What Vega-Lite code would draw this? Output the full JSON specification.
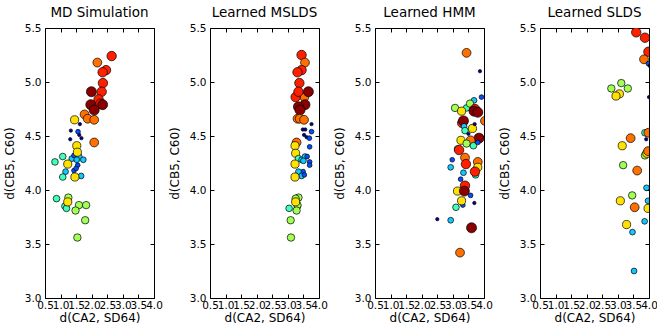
{
  "$schema": "https://vega.github.io/schema/vega-lite/v6.json",
  "padding": {"left": 2, "top": 5, "right": 5, "bottom": 2},
  "bounds": "flush",
  "spacing": 56,
  "config": {
    "view": {"stroke": "black", "strokeWidth": 1},
    "font": "DejaVu Sans",
    "title": {"font": "DejaVu Sans", "fontSize": 13.5, "fontWeight": "normal", "offset": 4, "color": "black"},
    "axis": {
      "domain": false, "grid": false, "tickSize": -4, "tickColor": "black",
      "labelColor": "black", "labelFont": "DejaVu Sans", "labelFontSize": 10.5,
      "titleFont": "DejaVu Sans", "titleFontSize": 12, "titleFontWeight": "normal", "titleColor": "black",
      "labelOverlap": false, "labelFlush": false, "labelBound": false
    }
  },
  "datasets": {
    "pts": [
      {"p":"MD Simulation","x":2.64,"y":5.24,"s":8},{"p":"MD Simulation","x":2.18,"y":5.18,"s":7},{"p":"MD Simulation","x":2.46,"y":5.11,"s":8},{"p":"MD Simulation","x":2.35,"y":5.09,"s":8},{"p":"MD Simulation","x":2.36,"y":4.99,"s":8},{"p":"MD Simulation","x":2.32,"y":4.91,"s":8},{"p":"MD Simulation","x":1.99,"y":4.91,"s":9},{"p":"MD Simulation","x":2.22,"y":4.84,"s":8},{"p":"MD Simulation","x":2.28,"y":4.80,"s":8},{"p":"MD Simulation","x":2.35,"y":4.79,"s":9},{"p":"MD Simulation","x":1.97,"y":4.79,"s":9},{"p":"MD Simulation","x":2.08,"y":4.74,"s":9},{"p":"MD Simulation","x":1.77,"y":4.70,"s":7},{"p":"MD Simulation","x":1.87,"y":4.66,"s":7},{"p":"MD Simulation","x":2.08,"y":4.65,"s":7},{"p":"MD Simulation","x":1.45,"y":4.65,"s":6},{"p":"MD Simulation","x":2.08,"y":4.44,"s":7},
      {"p":"MD Simulation","x":1.33,"y":4.55,"s":1},{"p":"MD Simulation","x":1.62,"y":4.61,"s":1},{"p":"MD Simulation","x":1.31,"y":4.47,"s":1},{"p":"MD Simulation","x":1.67,"y":4.48,"s":1},{"p":"MD Simulation","x":1.60,"y":4.51,"s":1},{"p":"MD Simulation","x":1.56,"y":4.54,"s":2},
      {"p":"MD Simulation","x":1.36,"y":4.29,"s":3},{"p":"MD Simulation","x":1.43,"y":4.32,"s":2},{"p":"MD Simulation","x":1.60,"y":4.31,"s":3},{"p":"MD Simulation","x":1.73,"y":4.28,"s":3},{"p":"MD Simulation","x":1.52,"y":4.28,"s":3},{"p":"MD Simulation","x":1.55,"y":4.23,"s":2},{"p":"MD Simulation","x":1.43,"y":4.18,"s":2},{"p":"MD Simulation","x":1.50,"y":4.20,"s":2},{"p":"MD Simulation","x":1.16,"y":4.17,"s":3},{"p":"MD Simulation","x":1.66,"y":4.13,"s":3},
      {"p":"MD Simulation","x":1.52,"y":4.41,"s":6},{"p":"MD Simulation","x":1.54,"y":4.35,"s":6},{"p":"MD Simulation","x":1.23,"y":4.24,"s":6},{"p":"MD Simulation","x":1.46,"y":4.12,"s":6},
      {"p":"MD Simulation","x":0.82,"y":4.26,"s":4},{"p":"MD Simulation","x":1.07,"y":4.31,"s":4},{"p":"MD Simulation","x":1.07,"y":4.12,"s":4},{"p":"MD Simulation","x":0.87,"y":3.92,"s":4},{"p":"MD Simulation","x":1.14,"y":3.85,"s":4},{"p":"MD Simulation","x":1.19,"y":3.83,"s":4},
      {"p":"MD Simulation","x":1.25,"y":3.93,"s":5},{"p":"MD Simulation","x":1.59,"y":3.86,"s":5},{"p":"MD Simulation","x":1.82,"y":3.86,"s":5},{"p":"MD Simulation","x":1.48,"y":3.81,"s":5},{"p":"MD Simulation","x":1.79,"y":3.72,"s":5},{"p":"MD Simulation","x":1.54,"y":3.56,"s":5},{"p":"MD Simulation","x":1.23,"y":3.89,"s":6},

      {"p":"Learned MSLDS","x":3.44,"y":5.25,"s":8},{"p":"Learned MSLDS","x":3.55,"y":5.18,"s":7},{"p":"Learned MSLDS","x":3.44,"y":5.11,"s":8},{"p":"Learned MSLDS","x":3.31,"y":5.09,"s":8},{"p":"Learned MSLDS","x":3.37,"y":4.99,"s":8},{"p":"Learned MSLDS","x":3.53,"y":4.86,"s":7},{"p":"Learned MSLDS","x":3.25,"y":4.86,"s":8},{"p":"Learned MSLDS","x":3.34,"y":4.91,"s":8},{"p":"Learned MSLDS","x":3.66,"y":4.91,"s":9},{"p":"Learned MSLDS","x":3.55,"y":4.79,"s":9},{"p":"Learned MSLDS","x":3.34,"y":4.77,"s":9},{"p":"Learned MSLDS","x":3.39,"y":4.74,"s":9},{"p":"Learned MSLDS","x":3.31,"y":4.66,"s":7},{"p":"Learned MSLDS","x":3.38,"y":4.66,"s":7},{"p":"Learned MSLDS","x":3.52,"y":4.65,"s":7},
      {"p":"Learned MSLDS","x":3.76,"y":4.61,"s":1},{"p":"Learned MSLDS","x":3.48,"y":4.56,"s":1},{"p":"Learned MSLDS","x":3.56,"y":4.56,"s":1},{"p":"Learned MSLDS","x":3.52,"y":4.51,"s":1},{"p":"Learned MSLDS","x":3.60,"y":4.49,"s":1},{"p":"Learned MSLDS","x":3.76,"y":4.54,"s":2},{"p":"Learned MSLDS","x":3.69,"y":4.48,"s":2},{"p":"Learned MSLDS","x":3.70,"y":4.40,"s":2},
      {"p":"Learned MSLDS","x":3.28,"y":4.44,"s":7},{"p":"Learned MSLDS","x":3.23,"y":4.41,"s":6},{"p":"Learned MSLDS","x":3.25,"y":4.34,"s":6},
      {"p":"Learned MSLDS","x":3.34,"y":4.29,"s":4},{"p":"Learned MSLDS","x":3.44,"y":4.28,"s":3},{"p":"Learned MSLDS","x":3.55,"y":4.31,"s":3},{"p":"Learned MSLDS","x":3.62,"y":4.31,"s":2},{"p":"Learned MSLDS","x":3.50,"y":4.27,"s":3},{"p":"Learned MSLDS","x":3.70,"y":4.26,"s":2},{"p":"Learned MSLDS","x":3.70,"y":4.23,"s":2},{"p":"Learned MSLDS","x":3.49,"y":4.17,"s":2},{"p":"Learned MSLDS","x":3.34,"y":4.17,"s":3},{"p":"Learned MSLDS","x":3.44,"y":4.13,"s":3},{"p":"Learned MSLDS","x":3.53,"y":4.14,"s":2},
      {"p":"Learned MSLDS","x":3.23,"y":4.24,"s":6},{"p":"Learned MSLDS","x":3.23,"y":4.12,"s":6},
      {"p":"Learned MSLDS","x":3.04,"y":3.83,"s":4},{"p":"Learned MSLDS","x":3.31,"y":3.85,"s":4},{"p":"Learned MSLDS","x":3.29,"y":3.91,"s":4},
      {"p":"Learned MSLDS","x":3.34,"y":3.93,"s":5},{"p":"Learned MSLDS","x":3.25,"y":3.92,"s":5},{"p":"Learned MSLDS","x":3.31,"y":3.86,"s":5},{"p":"Learned MSLDS","x":3.28,"y":3.81,"s":5},{"p":"Learned MSLDS","x":3.09,"y":3.72,"s":5},{"p":"Learned MSLDS","x":3.10,"y":3.56,"s":5},{"p":"Learned MSLDS","x":3.25,"y":3.89,"s":6},

      {"p":"Learned HMM","x":3.44,"y":5.27,"s":7},{"p":"Learned HMM","x":3.87,"y":5.10,"s":1},{"p":"Learned HMM","x":3.92,"y":4.86,"s":2},{"p":"Learned HMM","x":3.68,"y":4.83,"s":3},{"p":"Learned HMM","x":3.07,"y":4.76,"s":5},{"p":"Learned HMM","x":3.44,"y":4.76,"s":4},{"p":"Learned HMM","x":3.55,"y":4.80,"s":5},{"p":"Learned HMM","x":3.28,"y":4.73,"s":6},{"p":"Learned HMM","x":3.71,"y":4.75,"s":8},{"p":"Learned HMM","x":3.68,"y":4.73,"s":9},{"p":"Learned HMM","x":3.80,"y":4.72,"s":9},{"p":"Learned HMM","x":4.03,"y":4.64,"s":7},{"p":"Learned HMM","x":3.30,"y":4.62,"s":8},{"p":"Learned HMM","x":3.34,"y":4.64,"s":9},{"p":"Learned HMM","x":3.36,"y":4.59,"s":3},{"p":"Learned HMM","x":3.39,"y":4.55,"s":4},{"p":"Learned HMM","x":3.63,"y":4.57,"s":6},{"p":"Learned HMM","x":3.70,"y":4.61,"s":1},{"p":"Learned HMM","x":3.50,"y":4.52,"s":1},{"p":"Learned HMM","x":3.84,"y":4.48,"s":9},{"p":"Learned HMM","x":3.57,"y":4.46,"s":7},{"p":"Learned HMM","x":3.26,"y":4.46,"s":6},{"p":"Learned HMM","x":3.44,"y":4.43,"s":5},{"p":"Learned HMM","x":3.66,"y":4.41,"s":4},{"p":"Learned HMM","x":3.80,"y":4.44,"s":2},{"p":"Learned HMM","x":3.15,"y":4.38,"s":4},{"p":"Learned HMM","x":3.20,"y":4.37,"s":8},{"p":"Learned HMM","x":2.98,"y":4.28,"s":2},{"p":"Learned HMM","x":2.93,"y":4.21,"s":3},{"p":"Learned HMM","x":3.39,"y":4.30,"s":7},{"p":"Learned HMM","x":3.42,"y":4.24,"s":8},{"p":"Learned HMM","x":3.80,"y":4.26,"s":7},{"p":"Learned HMM","x":3.80,"y":4.21,"s":6},{"p":"Learned HMM","x":3.34,"y":4.16,"s":3},{"p":"Learned HMM","x":3.73,"y":4.14,"s":4},{"p":"Learned HMM","x":3.71,"y":4.17,"s":8},{"p":"Learned HMM","x":3.25,"y":4.10,"s":2},{"p":"Learned HMM","x":3.39,"y":4.04,"s":8},{"p":"Learned HMM","x":3.15,"y":3.99,"s":6},{"p":"Learned HMM","x":3.37,"y":3.99,"s":9},{"p":"Learned HMM","x":3.57,"y":3.95,"s":2},{"p":"Learned HMM","x":3.69,"y":3.88,"s":1},{"p":"Learned HMM","x":3.10,"y":3.84,"s":4},{"p":"Learned HMM","x":3.32,"y":3.86,"s":2},{"p":"Learned HMM","x":3.28,"y":3.90,"s":6},{"p":"Learned HMM","x":2.50,"y":3.73,"s":1},{"p":"Learned HMM","x":2.93,"y":3.72,"s":3},{"p":"Learned HMM","x":3.60,"y":3.65,"s":9},{"p":"Learned HMM","x":3.23,"y":3.42,"s":7},

      {"p":"Learned SLDS","x":3.59,"y":5.46,"s":8},{"p":"Learned SLDS","x":3.87,"y":5.41,"s":8},{"p":"Learned SLDS","x":3.98,"y":5.28,"s":8},{"p":"Learned SLDS","x":3.84,"y":5.21,"s":7},{"p":"Learned SLDS","x":3.98,"y":5.17,"s":2},{"p":"Learned SLDS","x":4.02,"y":5.15,"s":1},{"p":"Learned SLDS","x":2.79,"y":4.94,"s":5},{"p":"Learned SLDS","x":3.11,"y":4.99,"s":5},{"p":"Learned SLDS","x":3.32,"y":4.94,"s":5},{"p":"Learned SLDS","x":3.05,"y":4.89,"s":6},{"p":"Learned SLDS","x":2.94,"y":4.87,"s":6},{"p":"Learned SLDS","x":4.0,"y":4.86,"s":1},{"p":"Learned SLDS","x":3.87,"y":4.53,"s":4},{"p":"Learned SLDS","x":3.98,"y":4.53,"s":7},{"p":"Learned SLDS","x":3.91,"y":4.47,"s":1},{"p":"Learned SLDS","x":3.41,"y":4.48,"s":7},{"p":"Learned SLDS","x":3.14,"y":4.41,"s":6},{"p":"Learned SLDS","x":3.87,"y":4.32,"s":5},{"p":"Learned SLDS","x":3.93,"y":4.34,"s":6},{"p":"Learned SLDS","x":3.97,"y":4.36,"s":7},{"p":"Learned SLDS","x":3.17,"y":4.23,"s":5},{"p":"Learned SLDS","x":3.62,"y":4.18,"s":7},{"p":"Learned SLDS","x":3.92,"y":4.02,"s":3},{"p":"Learned SLDS","x":3.97,"y":3.90,"s":3},{"p":"Learned SLDS","x":3.46,"y":3.95,"s":5},{"p":"Learned SLDS","x":3.08,"y":3.90,"s":6},{"p":"Learned SLDS","x":3.54,"y":3.84,"s":7},{"p":"Learned SLDS","x":3.97,"y":3.83,"s":6},{"p":"Learned SLDS","x":3.86,"y":3.71,"s":3},{"p":"Learned SLDS","x":3.28,"y":3.68,"s":6},{"p":"Learned SLDS","x":3.47,"y":3.61,"s":3},{"p":"Learned SLDS","x":3.52,"y":3.25,"s":3}
    ]
  },
  "data": {"name": "pts"},
  "hconcat": [
    {"title": "MD Simulation", "width": 109, "height": 270, "transform": [{"filter": "datum.p === 'MD Simulation'"}],
     "layer": [
      {"mark": {"type": "circle", "opacity": 1, "stroke": "black", "strokeWidth": 0.7, "clip": true},
       "encoding": {
        "x": {"field": "x", "type": "quantitative", "scale": {"domain": [0.5, 4.0], "nice": false, "zero": false}, "axis": {"values": [0.5,1,1.5,2,2.5,3,3.5,4], "format": ".1f", "title": "d(CA2, SD64)", "labelPadding": 6, "titlePadding": 2}},
        "y": {"field": "y", "type": "quantitative", "scale": {"domain": [3.0, 5.5], "nice": false, "zero": false}, "axis": {"values": [3,3.5,4,4.5,5,5.5], "format": ".1f", "title": "d(CB5, C60)", "labelPadding": 8, "titlePadding": 8}},
        "color": {"field": "s", "type": "ordinal", "scale": {"domain": [1,2,3,4,5,6,7,8,9], "range": ["#00009f","#0050ff","#14c8ff","#40ffb8","#a2ff56","#ffe200","#ff7000","#ff2000","#8a0000"]}, "legend": null},
        "size": {"field": "s", "type": "quantitative", "scale": {"domain": [0, 9], "range": [0, 100], "zero": true}, "legend": null}
       }},
      {"mark": {"type": "point", "opacity": 0},
       "encoding": {
        "x": {"field": "x", "type": "quantitative", "axis": {"orient": "top", "values": [0.5,1,1.5,2,2.5,3,3.5,4], "labels": false, "title": null}},
        "y": {"field": "y", "type": "quantitative", "axis": {"orient": "right", "values": [3,3.5,4,4.5,5,5.5], "labels": false, "title": null}}
       }}
     ],
     "resolve": {"axis": {"x": "independent", "y": "independent"}}
    },
    {"title": "Learned MSLDS", "width": 109, "height": 270, "transform": [{"filter": "datum.p === 'Learned MSLDS'"}],
     "layer": [
      {"mark": {"type": "circle", "opacity": 1, "stroke": "black", "strokeWidth": 0.7, "clip": true},
       "encoding": {
        "x": {"field": "x", "type": "quantitative", "scale": {"domain": [0.5, 4.0], "nice": false, "zero": false}, "axis": {"values": [0.5,1,1.5,2,2.5,3,3.5,4], "format": ".1f", "title": "d(CA2, SD64)", "labelPadding": 6, "titlePadding": 2}},
        "y": {"field": "y", "type": "quantitative", "scale": {"domain": [3.0, 5.5], "nice": false, "zero": false}, "axis": {"values": [3,3.5,4,4.5,5,5.5], "format": ".1f", "title": "d(CB5, C60)", "labelPadding": 8, "titlePadding": 8}},
        "color": {"field": "s", "type": "ordinal", "scale": {"domain": [1,2,3,4,5,6,7,8,9], "range": ["#00009f","#0050ff","#14c8ff","#40ffb8","#a2ff56","#ffe200","#ff7000","#ff2000","#8a0000"]}, "legend": null},
        "size": {"field": "s", "type": "quantitative", "scale": {"domain": [0, 9], "range": [0, 100], "zero": true}, "legend": null}
       }},
      {"mark": {"type": "point", "opacity": 0},
       "encoding": {
        "x": {"field": "x", "type": "quantitative", "axis": {"orient": "top", "values": [0.5,1,1.5,2,2.5,3,3.5,4], "labels": false, "title": null}},
        "y": {"field": "y", "type": "quantitative", "axis": {"orient": "right", "values": [3,3.5,4,4.5,5,5.5], "labels": false, "title": null}}
       }}
     ],
     "resolve": {"axis": {"x": "independent", "y": "independent"}}
    },
    {"title": "Learned HMM", "width": 109, "height": 270, "transform": [{"filter": "datum.p === 'Learned HMM'"}],
     "layer": [
      {"mark": {"type": "circle", "opacity": 1, "stroke": "black", "strokeWidth": 0.7, "clip": true},
       "encoding": {
        "x": {"field": "x", "type": "quantitative", "scale": {"domain": [0.5, 4.0], "nice": false, "zero": false}, "axis": {"values": [0.5,1,1.5,2,2.5,3,3.5,4], "format": ".1f", "title": "d(CA2, SD64)", "labelPadding": 6, "titlePadding": 2}},
        "y": {"field": "y", "type": "quantitative", "scale": {"domain": [3.0, 5.5], "nice": false, "zero": false}, "axis": {"values": [3,3.5,4,4.5,5,5.5], "format": ".1f", "title": "d(CB5, C60)", "labelPadding": 8, "titlePadding": 8}},
        "color": {"field": "s", "type": "ordinal", "scale": {"domain": [1,2,3,4,5,6,7,8,9], "range": ["#00009f","#0050ff","#14c8ff","#40ffb8","#a2ff56","#ffe200","#ff7000","#ff2000","#8a0000"]}, "legend": null},
        "size": {"field": "s", "type": "quantitative", "scale": {"domain": [0, 9], "range": [0, 100], "zero": true}, "legend": null}
       }},
      {"mark": {"type": "point", "opacity": 0},
       "encoding": {
        "x": {"field": "x", "type": "quantitative", "axis": {"orient": "top", "values": [0.5,1,1.5,2,2.5,3,3.5,4], "labels": false, "title": null}},
        "y": {"field": "y", "type": "quantitative", "axis": {"orient": "right", "values": [3,3.5,4,4.5,5,5.5], "labels": false, "title": null}}
       }}
     ],
     "resolve": {"axis": {"x": "independent", "y": "independent"}}
    },
    {"title": "Learned SLDS", "width": 109, "height": 270, "transform": [{"filter": "datum.p === 'Learned SLDS'"}],
     "layer": [
      {"mark": {"type": "circle", "opacity": 1, "stroke": "black", "strokeWidth": 0.7, "clip": true},
       "encoding": {
        "x": {"field": "x", "type": "quantitative", "scale": {"domain": [0.5, 4.0], "nice": false, "zero": false}, "axis": {"values": [0.5,1,1.5,2,2.5,3,3.5,4], "format": ".1f", "title": "d(CA2, SD64)", "labelPadding": 6, "titlePadding": 2}},
        "y": {"field": "y", "type": "quantitative", "scale": {"domain": [3.0, 5.5], "nice": false, "zero": false}, "axis": {"values": [3,3.5,4,4.5,5,5.5], "format": ".1f", "title": "d(CB5, C60)", "labelPadding": 8, "titlePadding": 8}},
        "color": {"field": "s", "type": "ordinal", "scale": {"domain": [1,2,3,4,5,6,7,8,9], "range": ["#00009f","#0050ff","#14c8ff","#40ffb8","#a2ff56","#ffe200","#ff7000","#ff2000","#8a0000"]}, "legend": null},
        "size": {"field": "s", "type": "quantitative", "scale": {"domain": [0, 9], "range": [0, 100], "zero": true}, "legend": null}
       }},
      {"mark": {"type": "point", "opacity": 0},
       "encoding": {
        "x": {"field": "x", "type": "quantitative", "axis": {"orient": "top", "values": [0.5,1,1.5,2,2.5,3,3.5,4], "labels": false, "title": null}},
        "y": {"field": "y", "type": "quantitative", "axis": {"orient": "right", "values": [3,3.5,4,4.5,5,5.5], "labels": false, "title": null}}
       }}
     ],
     "resolve": {"axis": {"x": "independent", "y": "independent"}}
    }
  ]
}
